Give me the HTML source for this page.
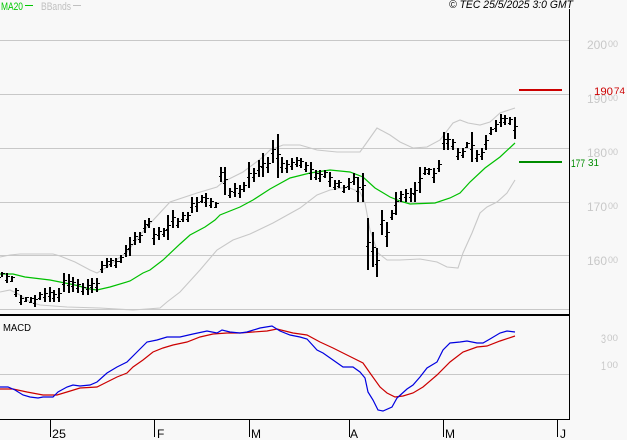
<!DOCTYPE html>
<html><head><meta charset="utf-8"><style>
html,body{margin:0;padding:0;background:#f8f8f8;}
svg{display:block;font-family:"Liberation Sans",Arial,sans-serif;}
</style></head><body>
<svg width="627" height="440" viewBox="0 0 627 440" xmlns="http://www.w3.org/2000/svg">
<rect width="627" height="440" fill="#f8f8f8"/>
<g stroke="#c8c8c8" stroke-width="1" shape-rendering="crispEdges">
<path d="M0 40.5H569M0 94.5H569M0 148.5H569M0 202.5H569M0 255.5H569M0 309.5H569M0 374.5H569"/>
</g>
<g fill="none" stroke="#c8c8c8" stroke-width="1.1">
<polyline points="0,257 10,255 20,254 53,254 60,256 75,262 90,270 97,273 107,267 127,252 145,229 170,202 197,193 217,187 223,182 243,172 263,157 270,150 283,145 300,145 317,150 337,152 360,152 365,145 377,128 390,135 400,142 413,148 427,147 440,140 453,123 460,120 468,123 480,125 490,122 500,113 515,108"/>
<polyline points="0,292 10,290 20,295 30,302 40,305 67,307 100,308 133,310 160,308 167,302 180,292 200,270 217,250 233,240 250,234 273,223 300,208 317,195 330,190 347,187 360,192 365,203 370,230 378,253 387,260 400,260 420,259 437,262 447,267 458,268 463,253 472,233 480,213 487,207 497,202 507,193 515,180"/>
</g>
<polyline fill="none" stroke="#00c000" stroke-width="1.2" points="0,274 13,274 25,277 50,280 60,282 75,285 90,289 97,290 110,287 130,281 143,273 150,270 163,260 180,244 190,235 205,227 215,220 220,215 240,207 253,200 270,189 290,178 310,173 330,170 350,172 363,177 375,188 390,197 400,201 410,204 435,203 450,198 460,193 470,182 485,168 500,157 515,143"/>
<path fill="none" stroke="#000" stroke-width="2" shape-rendering="crispEdges" d="M2 272V277M7 273V283M12 276V282M16 288V297M21 295V305M26 297V302M31 297V303M35 295V307M40 292V300M45 288V302M50 287V302M54 290V302M59 288V302M64 273V292M69 274V293M73 277V292M78 279V293M83 283V295M88 279V295M92 278V293M97 278V292M102 261V273M107 258V268M111 258V267M116 258V268M121 255V263M126 245V257M130 237V256M135 232V245M140 232V243M145 220V233M149 218V228M154 228V245M159 227V240M164 228V237M168 215V240M173 210V228M178 218V228M183 212V222M188 212V222M192 197V213M197 197V212M202 195V203M206 193V207M211 198V208M216 202V208M221 167V182M225 167V195M230 188V198M235 183V197M240 185V198M244 182V192M249 162V188M254 168V182M259 160V177M263 153V177M268 157V173M273 140V163M278 134V178M282 157V173M287 160V173M292 158V170M297 157V167M301 158V168M306 162V172M311 162V180M316 170V180M320 170V182M325 170V178M330 172V187M335 180V190M339 180V188M344 185V193M349 178V190M354 173V185M358 177V202M363 173V202M368 218V270M373 232V267M377 248V277M382 210V235M387 222V247M392 210V220M396 192V215M401 191V202M406 189V202M411 188V202M415 182V202M420 167V193M425 167V175M429 168V175M434 168V183M439 160V172M444 132V150M448 133V150M453 139V150M458 148V160M463 148V158M467 142V148M472 132V162M477 150V162M482 148V160M486 135V150M491 127V135M496 120V132M501 114V127M505 115V125M510 117V125M515 117V139"/>
<path fill="none" stroke="#000" stroke-width="1" shape-rendering="crispEdges" d="M0 277.5h1m2-4h2M5 280.5h1m2-4h2M10 281.5h1m2-4h2M14 294.5h1m2-4h2M19 302.5h1m2-4h2M24 301.5h1m2-4h2M29 302.5h1m2-4h2M33 303.5h1m2-4h2M38 298.5h1m2-4h2M43 297.5h1m2-4h2M48 296.5h1m2-4h2M52 298.5h1m2-4h2M57 297.5h1m2-4h2M62 284.5h1m2-4h2M67 285.5h1m2-4h2M71 286.5h1m2-4h2M76 288.5h1m2-4h2M81 291.5h1m2-4h2M86 289.5h1m2-4h2M90 287.5h1m2-4h2M95 287.5h1m2-4h2M100 269.5h1m2-4h2M105 265.5h1m2-4h2M109 264.5h1m2-4h2M114 265.5h1m2-4h2M119 261.5h1m2-4h2M124 253.5h1m2-4h2M128 248.5h1m2-4h2M133 240.5h1m2-4h2M138 239.5h1m2-4h2M143 228.5h1m2-4h2M147 225.5h1m2-4h2M152 238.5h1m2-4h2M157 235.5h1m2-4h2M162 234.5h1m2-4h2M166 229.5h1m2-4h2M171 221.5h1m2-4h2M176 225.5h1m2-4h2M181 219.5h1m2-4h2M186 219.5h1m2-4h2M190 207.5h1m2-4h2M195 206.5h1m2-4h2M200 201.5h1m2-4h2M204 202.5h1m2-4h2M209 205.5h1m2-4h2M214 207.5h1m2-4h2M219 176.5h1m2-4h2M223 183.5h1m2-4h2M228 195.5h1m2-4h2M233 192.5h1m2-4h2M238 193.5h1m2-4h2M242 189.5h1m2-4h2M247 177.5h1m2-4h2M252 177.5h1m2-4h2M257 170.5h1m2-4h2M261 167.5h1m2-4h2M266 167.5h1m2-4h2M271 153.5h1m2-4h2M276 158.5h1m2-4h2M280 167.5h1m2-4h2M285 168.5h1m2-4h2M290 166.5h1m2-4h2M295 164.5h1m2-4h2M299 165.5h1m2-4h2M304 169.5h1m2-4h2M309 173.5h1m2-4h2M314 177.5h1m2-4h2M318 178.5h1m2-4h2M323 176.5h1m2-4h2M328 181.5h1m2-4h2M333 187.5h1m2-4h2M337 186.5h1m2-4h2M342 191.5h1m2-4h2M347 186.5h1m2-4h2M352 181.5h1m2-4h2M356 191.5h1m2-4h2M361 189.5h1m2-4h2M366 246.5h1m2-4h2M371 251.5h1m2-4h2M375 264.5h1m2-4h2M380 224.5h1m2-4h2M385 236.5h1m2-4h2M390 217.5h1m2-4h2M394 205.5h1m2-4h2M399 198.5h1m2-4h2M404 197.5h1m2-4h2M409 197.5h1m2-4h2M413 194.5h1m2-4h2M418 182.5h1m2-4h2M423 173.5h1m2-4h2M427 173.5h1m2-4h2M432 177.5h1m2-4h2M437 168.5h1m2-4h2M442 143.5h1m2-4h2M446 143.5h1m2-4h2M451 146.5h1m2-4h2M456 156.5h1m2-4h2M461 155.5h1m2-4h2M465 147.5h1m2-4h2M470 149.5h1m2-4h2M475 158.5h1m2-4h2M480 156.5h1m2-4h2M484 144.5h1m2-4h2M489 133.5h1m2-4h2M494 128.5h1m2-4h2M499 122.5h1m2-4h2M503 122.5h1m2-4h2M508 123.5h1m2-4h2M513 130.5h1m2-4h2"/>
<rect x="519" y="89" width="43" height="2" fill="#cc0000"/>
<rect x="519" y="161" width="43" height="2" fill="#008c00"/>
<polyline fill="none" stroke="#cc0000" stroke-width="1.2" points="0,389 13,389 27,392 43,395 57,395 67,392 80,388 97,387 107,382 117,377 127,373 133,367 143,360 153,352 163,348 173,345 187,342 200,337 213,334 227,333 240,333 253,332 267,331 277,329 293,333 307,335 320,342 333,348 347,355 363,363 370,373 380,387 387,393 395,397 403,396 413,393 423,387 437,375 450,362 463,352 477,347 487,346 500,341 515,336"/>
<polyline fill="none" stroke="#0000e0" stroke-width="1.2" points="0,387 8,387 15,390 23,395 30,397 38,398 43,397 53,397 58,392 67,387 73,385 80,386 90,385 97,382 107,373 117,367 127,362 137,352 147,342 157,340 167,337 180,337 193,334 207,331 217,333 222,330 230,332 240,333 247,332 260,328 272,326 280,331 290,335 300,337 307,339 317,350 323,353 333,360 343,367 353,367 360,372 365,378 368,392 373,400 378,410 383,411 392,407 397,398 407,389 413,385 420,377 427,368 437,362 443,350 450,343 460,342 467,341 477,343 483,343 490,339 500,333 507,331 515,332"/>
<g fill="#000" shape-rendering="crispEdges">
<rect x="569" y="9" width="1" height="411"/>
<rect x="0" y="314" width="570" height="2"/>
<rect x="0" y="419" width="570" height="1"/>
<rect x="50" y="419" width="1" height="18"/>
<rect x="154" y="419" width="1" height="18"/>
<rect x="249" y="419" width="1" height="18"/>
<rect x="349" y="419" width="1" height="18"/>
<rect x="443" y="419" width="1" height="18"/>
<rect x="557" y="419" width="1" height="18"/>
</g>
<text x="1" y="10" font-size="11" fill="#00c800" textLength="22" lengthAdjust="spacingAndGlyphs">MA20</text>
<rect x="25" y="5" width="8" height="1" fill="#00c800"/>
<text x="41" y="10" font-size="11" fill="#c0c0c0" textLength="30" lengthAdjust="spacingAndGlyphs">BBands</text>
<rect x="73" y="5" width="8" height="1" fill="#c0c0c0"/>
<text x="449" y="8" font-size="11" font-style="italic" fill="#000" textLength="124" lengthAdjust="spacingAndGlyphs">© TEC 25/5/2025 3:0 GMT</text>
<g fill="#c8c8c8">
<text x="587" y="49" font-size="12" textLength="20" lengthAdjust="spacingAndGlyphs">200</text><text x="608" y="47" font-size="9" textLength="10" lengthAdjust="spacingAndGlyphs">00</text>
<text x="587" y="103" font-size="12" textLength="20" lengthAdjust="spacingAndGlyphs">190</text><text x="608" y="101" font-size="9" textLength="10" lengthAdjust="spacingAndGlyphs">00</text>
<text x="587" y="157" font-size="12" textLength="20" lengthAdjust="spacingAndGlyphs">180</text><text x="608" y="155" font-size="9" textLength="10" lengthAdjust="spacingAndGlyphs">00</text>
<text x="587" y="211" font-size="12" textLength="20" lengthAdjust="spacingAndGlyphs">170</text><text x="608" y="209" font-size="9" textLength="10" lengthAdjust="spacingAndGlyphs">00</text>
<text x="587" y="265" font-size="12" textLength="20" lengthAdjust="spacingAndGlyphs">160</text><text x="608" y="263" font-size="9" textLength="10" lengthAdjust="spacingAndGlyphs">00</text>
<text x="601" y="343" font-size="12" textLength="5" lengthAdjust="spacingAndGlyphs">3</text><text x="607" y="341" font-size="9" textLength="11" lengthAdjust="spacingAndGlyphs">00</text>
<text x="601" y="370" font-size="12" textLength="5" lengthAdjust="spacingAndGlyphs">1</text><text x="607" y="368" font-size="9" textLength="11" lengthAdjust="spacingAndGlyphs">00</text>
</g>
<text x="594" y="95" font-size="11" fill="#cc0000" textLength="19" lengthAdjust="spacingAndGlyphs">190</text>
<text x="614" y="94" font-size="9" fill="#cc0000" textLength="11" lengthAdjust="spacingAndGlyphs">74</text>
<text x="571" y="167" font-size="11" fill="#008c00" textLength="14" lengthAdjust="spacingAndGlyphs">177</text>
<text x="588" y="166" font-size="10" fill="#008c00" textLength="11" lengthAdjust="spacingAndGlyphs">31</text>
<text x="3" y="331" font-size="10" fill="#000" textLength="28" lengthAdjust="spacingAndGlyphs">MACD</text>
<g font-size="12" fill="#000">
<text x="52" y="438" textLength="14" lengthAdjust="spacingAndGlyphs">25</text>
<text x="157" y="438">F</text>
<text x="251" y="438">M</text>
<text x="350" y="438">A</text>
<text x="445" y="438">M</text>
<text x="560" y="438">J</text>
</g>
</svg>
</body></html>
